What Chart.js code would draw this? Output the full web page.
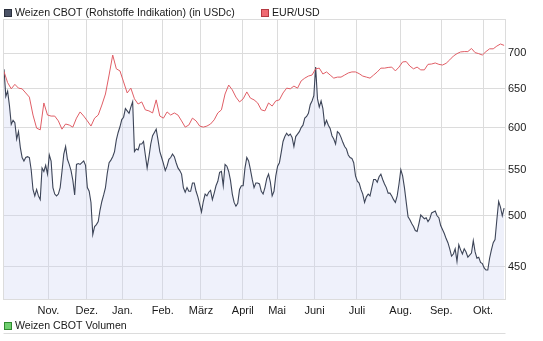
<!DOCTYPE html>
<html><head><meta charset="utf-8">
<script src="https://cdn.jsdelivr.net/npm/chart.js@4"></script>
<style>html,body{margin:0;padding:0;background:#fff}#wrap{width:543px;height:341px;position:relative}</style>
</head><body><div id="wrap"><canvas id="c" width="543" height="341"></canvas></div>
<script>
const wheatLabel = 'Weizen CBOT (Rohstoffe Indikation) (in USDc)';
const eurLabel = 'EUR/USD';
const volumeLabel = 'Weizen CBOT Volumen';
const monthLabels = ['Nov.','Dez.','Jan.','Feb.','März','April','Mai','Juni','Juli','Aug.','Sep.','Okt.'];
const monthTickDays = [24.5,45.7,65.4,87.6,108.7,131.8,150.7,171.4,194.8,218.9,241.3,264.4];
const yTicks = [450,500,550,600,650,700];
// Weizen CBOT, one value per trading day (USc)
const wheat = [677,640,647,628,604,609,606,586,595,576,
564,560,564,565,564,550,528,521,528,521,
517,552,548,555,545,567,560,530,523,521,
523,530,548,568,577,562,556,549,538,522,
556,557,556,558,560,555,530,526,514,481,
489,491,494,506,515,522,530,546,558,561,
565,571,585,594,601,610,613,624,621,618,
626,633,571,574,573,580,580,583,567,552,
565,580,590,594,598,585,571,564,557,549,
554,562,564,568,565,558,552,549,545,530,
525,530,526,526,535,535,526,520,512,504,
515,523,521,525,527,517,524,532,537,547,
548,532,556,554,548,538,523,514,510,513,
528,532,532,552,564,560,550,539,530,535,
535,534,526,523,530,540,545,536,521,526,
543,554,558,570,583,589,593,590,592,588,
577,589,592,595,600,603,612,614,618,629,
634,641,680,637,626,634,624,603,609,603,
599,590,586,580,595,593,588,582,577,574,
567,564,563,558,543,537,535,528,523,514,
520,523,521,530,539,539,536,542,545,539,
534,530,524,524,521,517,514,521,534,550,
543,530,514,499,496,492,489,485,484,492,
501,499,497,498,494,497,503,504,505,500,
498,490,486,482,477,473,467,460,462,467,
455,471,466,462,467,464,459,461,463,475,
464,458,459,454,453,449,447,447,458,466,
473,476,496,515,509,500,508];
// EUR/USD, one value every second trading day
const eurStep = 2;
const eur = [1.420,1.388,1.370,1.383,1.372,1.370,1.358,1.346,1.294,1.256,
1.251,1.329,1.294,1.291,1.291,1.277,1.253,1.268,1.265,1.259,
1.285,1.303,1.291,1.277,1.262,1.285,1.294,1.323,1.355,1.410,
1.468,1.428,1.422,1.390,1.358,1.372,1.341,1.326,1.332,1.309,
1.306,1.300,1.338,1.291,1.285,1.303,1.294,1.300,1.294,1.277,
1.259,1.265,1.285,1.277,1.262,1.259,1.262,1.268,1.280,1.300,
1.309,1.355,1.381,1.367,1.346,1.332,1.341,1.361,1.343,1.338,
1.329,1.309,1.306,1.329,1.320,1.335,1.338,1.358,1.372,1.370,
1.378,1.372,1.393,1.401,1.407,1.410,1.428,1.430,1.413,1.419,
1.410,1.401,1.404,1.404,1.410,1.416,1.419,1.419,1.414,1.407,
1.404,1.401,1.410,1.419,1.430,1.430,1.432,1.433,1.422,1.433,
1.448,1.449,1.436,1.428,1.433,1.425,1.425,1.441,1.442,1.445,
1.441,1.439,1.444,1.454,1.465,1.472,1.477,1.478,1.478,1.487,
1.475,1.472,1.468,1.478,1.486,1.486,1.494,1.500,1.496];

const FONT = '"Liberation Sans", Arial, sans-serif';
const GRID = '#dcdcdc';
const WHEAT_COLOR = '#3d4558';
const EUR_COLOR = '#e05e66';

const frame = {
  id: 'frame',
  beforeDatasetsDraw(chart) {
    const {ctx, chartArea: a} = chart;
    ctx.save();
    ctx.strokeStyle = GRID;
    ctx.lineWidth = 1;
    ctx.strokeRect(Math.round(a.left) - 0.5, Math.round(a.top) + 0.5, Math.round(a.right - a.left) + 1, Math.round(a.bottom - a.top));
    ctx.restore();
  },
  afterDraw(chart) {
    const {ctx, chartArea: a} = chart;
    ctx.save();
    ctx.font = '10.6px ' + FONT;
    ctx.textBaseline = 'middle';
    const box = (x, y, fill, stroke) => {
      ctx.fillStyle = fill; ctx.fillRect(x, y, 8, 8);
      ctx.strokeStyle = stroke; ctx.lineWidth = 1; ctx.strokeRect(x + 0.5, y + 0.5, 7, 7);
    };
    box(4, 9, '#4b5366', '#2a2f3c');
    ctx.fillStyle = '#1a1a1a';
    ctx.fillText(wheatLabel, 15, 13.5);
    box(261, 9, '#ef6a72', '#b53a42');
    ctx.fillStyle = '#1a1a1a';
    ctx.fillText(eurLabel, 272, 13.5);
    box(4, 322, '#6fcf6f', '#2f8a2f');
    ctx.fillStyle = '#1a1a1a';
    ctx.fillText(volumeLabel, 15, 326);
    ctx.strokeStyle = GRID;
    ctx.beginPath();
    ctx.moveTo(Math.round(a.left) - 0.5, 333.5);
    ctx.lineTo(Math.round(a.right) + 0.5, 333.5);
    ctx.stroke();
    ctx.restore();
  }
};

new Chart(document.getElementById('c'), {
  type: 'line',
  data: {
    datasets: [
      {
        label: eurLabel,
        data: eur.map((v, k) => ({x: k * eurStep, y: v})),
        yAxisID: 'y2',
        borderColor: EUR_COLOR,
        borderWidth: 1,
        pointRadius: 0,
        fill: false,
        tension: 0
      },
      {
        label: wheatLabel,
        data: wheat.map((v, i) => ({x: i, y: v})),
        yAxisID: 'y',
        borderColor: WHEAT_COLOR,
        borderWidth: 1.1,
        backgroundColor: 'rgba(205,214,242,0.33)',
        pointRadius: 0,
        fill: 'start',
        tension: 0
      }
    ]
  },
  options: {
    responsive: false,
    animation: false,
    devicePixelRatio: 1,
    layout: {padding: {left: 4, top: 19, right: 0, bottom: 0}},
    plugins: {legend: {display: false}, tooltip: {enabled: false}},
    scales: {
      x: {
        type: 'linear',
        min: 0,
        max: 276.5,
        grid: {color: GRID, drawTicks: false},
        border: {color: GRID},
        ticks: {
          font: {size: 11, family: FONT},
          color: '#1a1a1a',
          padding: 5,
          maxRotation: 0,
          autoSkip: false,
          callback: (v, i) => monthLabels[i]
        },
        afterBuildTicks: s => { s.ticks = monthTickDays.map(v => ({value: v})); },
        afterFit: s => { s.height = 42; }
      },
      y: {
        type: 'logarithmic',
        position: 'right',
        min: 421,
        max: 751,
        grid: {color: GRID, drawTicks: false},
        border: {color: GRID},
        ticks: {
          font: {size: 11, family: FONT},
          color: '#1a1a1a',
          padding: 3,
          callback: v => String(v)
        },
        afterBuildTicks: s => { s.ticks = yTicks.map(v => ({value: v})); },
        afterFit: s => { s.width = 38; }
      },
      y2: {
        type: 'linear',
        display: false,
        min: 0.7605,
        max: 1.5725
      }
    }
  },
  plugins: [frame]
});
</script>
</body></html>
